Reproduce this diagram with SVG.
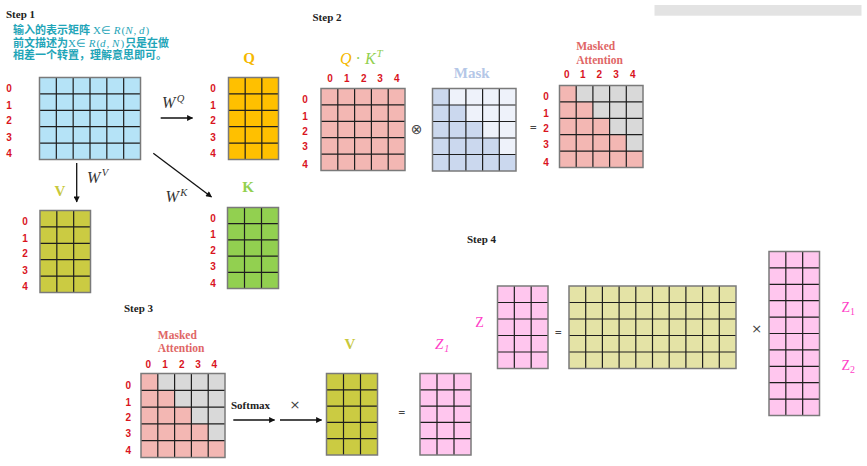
<svg xmlns="http://www.w3.org/2000/svg" width="867" height="466" viewBox="0 0 867 466">
<style>
.bg{fill:#ffffff}
.step{font-family:"Liberation Serif",serif;font-weight:bold;font-size:11px;fill:#222}
.idx{font-family:"Liberation Sans",Arial,sans-serif;font-weight:bold;font-size:10px;fill:#d9141e;text-anchor:middle}
.grid{fill:none;stroke:#1e1e1e;stroke-width:1.2}
.frame{fill:none;stroke:#7a7a7a;stroke-width:1.5}
.title{font-family:"Liberation Serif",serif;font-weight:bold;font-size:15px;text-anchor:middle}
.ma{font-family:"Liberation Serif",serif;font-weight:bold;font-size:11.5px;fill:#e06666;text-anchor:middle}
.w{font-family:"Liberation Serif",serif;font-style:italic;fill:#333}
.zl{font-family:"Liberation Serif",serif;fill:#ff3fc8}
.op{font-family:"DejaVu Sans",sans-serif;fill:#444;text-anchor:middle}
.cn{font-family:"Liberation Sans","Noto Sans CJK SC",sans-serif;font-weight:bold;font-size:11px;fill:#1fa5b8}
.m{font-family:"Liberation Serif",serif;font-weight:normal;font-size:11px}
.mi{font-family:"Liberation Serif",serif;font-weight:normal;font-style:italic;font-size:11px}
.arr{stroke:#111;stroke-width:1.3;fill:none;marker-end:url(#ah)}
</style>
<defs>
<marker id="ah" viewBox="0 0 10 10" refX="9" refY="5" markerWidth="7" markerHeight="6" markerUnits="userSpaceOnUse" orient="auto">
<path d="M0,0 L10,5 L0,10 z" fill="#111"/>
</marker>
</defs>
<rect class="bg" x="0" y="0" width="867" height="466"/>
<rect x="654.5" y="5" width="207" height="10.7" fill="#e3e3e3"/>

<!-- Step labels -->
<text class="step" x="6" y="18">Step 1</text>
<text class="step" x="312.5" y="21">Step 2</text>
<text class="step" x="124" y="312">Step 3</text>
<text class="step" x="467" y="243">Step 4</text>

<!-- Chinese note -->
<g id="note">
<text class="cn" x="13" y="34">输入的表示矩阵 <tspan class="m">X∈ </tspan><tspan class="mi">R</tspan><tspan class="m" dx="1">(</tspan><tspan class="mi">N</tspan><tspan class="m" dx="1">, </tspan><tspan class="mi">d</tspan><tspan class="m" dx="1">)</tspan></text>
<text class="cn" x="13" y="46.5">前文描述为<tspan class="m">X∈ </tspan><tspan class="mi">R</tspan><tspan class="m" dx="1">(</tspan><tspan class="mi">d</tspan><tspan class="m" dx="1">, </tspan><tspan class="mi">N</tspan><tspan class="m" dx="1">)</tspan><tspan dx="1">只是在做</tspan></text>
<text class="cn" x="13" y="59">相差一个转置，理解意思即可。</text>
</g>

<!-- X matrix -->
<g id="X">
<rect x="39.5" y="77.5" width="101" height="82" fill="#b5e3f7"/>
<path class="grid" d="M56.33,77.5V159.5M73.17,77.5V159.5M90,77.5V159.5M106.83,77.5V159.5M123.67,77.5V159.5M39.5,93.9H140.5M39.5,110.3H140.5M39.5,126.7H140.5M39.5,143.1H140.5"/>
<rect class="frame" x="39.5" y="77.5" width="101" height="82"/>
<text class="idx" x="9" y="92.3">0</text><text class="idx" x="9" y="108.6">1</text><text class="idx" x="9" y="124.1">2</text><text class="idx" x="9" y="140.6">3</text><text class="idx" x="9" y="157.3">4</text>
</g>

<!-- Q matrix -->
<g id="Q">
<text class="title" x="249" y="63" fill="#f5b800">Q</text>
<rect x="228.5" y="77.5" width="50" height="82" fill="#ffc000"/>
<path class="grid" d="M245.17,77.5V159.5M261.83,77.5V159.5M228.5,93.9H278.5M228.5,110.3H278.5M228.5,126.7H278.5M228.5,143.1H278.5"/>
<rect class="frame" x="228.5" y="77.5" width="50" height="82"/>
<text class="idx" x="213" y="92.3">0</text><text class="idx" x="213" y="108.6">1</text><text class="idx" x="213" y="124.1">2</text><text class="idx" x="213" y="140.6">3</text><text class="idx" x="213" y="157.3">4</text>
</g>

<!-- V matrix step 1 -->
<g id="V1">
<text class="title" x="60" y="195.5" fill="#c8c83c">V</text>
<rect x="40" y="210.5" width="50.5" height="82" fill="#cbcb42"/>
<path class="grid" d="M56.83,210.5V292.5M73.67,210.5V292.5M40,226.9H90.5M40,243.3H90.5M40,259.7H90.5M40,276.1H90.5"/>
<rect class="frame" x="40" y="210.5" width="50.5" height="82"/>
<text class="idx" x="25" y="225.3">0</text><text class="idx" x="25" y="241.9">1</text><text class="idx" x="25" y="257.3">2</text><text class="idx" x="25" y="273.6">3</text><text class="idx" x="25" y="290.3">4</text>
</g>

<!-- K matrix -->
<g id="K">
<text class="title" x="248" y="192.3" fill="#92d050">K</text>
<rect x="227.5" y="207.5" width="51" height="81" fill="#92d050"/>
<path class="grid" d="M244.5,207.5V288.5M261.5,207.5V288.5M227.5,223.7H278.5M227.5,239.9H278.5M227.5,256.1H278.5M227.5,272.3H278.5"/>
<rect class="frame" x="227.5" y="207.5" width="51" height="81"/>
<text class="idx" x="213" y="221.9">0</text><text class="idx" x="213" y="237.9">1</text><text class="idx" x="213" y="253.6">2</text><text class="idx" x="213" y="270.3">3</text><text class="idx" x="213" y="286.9">4</text>
</g>

<!-- QK^T matrix -->
<g id="QKT">
<text x="340" y="64" font-family="Liberation Serif,serif" font-style="italic" font-size="16"><tspan fill="#f5b800">Q</tspan><tspan fill="#92d050" font-style="normal" dx="4">·</tspan><tspan fill="#92d050" dx="4">K</tspan><tspan fill="#92d050" font-size="11" dx="1" dy="-7">T</tspan></text>
<rect x="321" y="88.5" width="84" height="82" fill="#f3b7b3"/>
<path class="grid" d="M337.8,88.5V170.5M354.6,88.5V170.5M371.4,88.5V170.5M388.2,88.5V170.5M321,104.9H405M321,121.3H405M321,137.7H405M321,154.1H405"/>
<rect class="frame" x="321" y="88.5" width="84" height="82"/>
<text class="idx" x="330" y="82">0</text><text class="idx" x="346.7" y="82">1</text><text class="idx" x="363.7" y="82">2</text><text class="idx" x="380" y="82">3</text><text class="idx" x="396.7" y="82">4</text>
<text class="idx" x="305" y="102.9">0</text><text class="idx" x="305" y="119.6">1</text><text class="idx" x="305" y="135.3">2</text><text class="idx" x="305" y="150.3">3</text><text class="idx" x="305" y="167.9">4</text>
</g>

<text class="op" x="416.5" y="133.5" font-size="14">⊗</text>

<!-- Mask matrix -->
<g id="Mask">
<text class="title" x="471.7" y="78.3" fill="#b4c7e7">Mask</text>
<rect x="432.5" y="88.5" width="83.5" height="82.5" fill="#eef2fa"/>
<polygon points="432.5,88.5 449.2,88.5 449.2,105 465.9,105 465.9,121.5 482.6,121.5 482.6,138 499.3,138 499.3,154.5 516,154.5 516,171 432.5,171" fill="#cbd8ee"/>
<path class="grid" d="M449.2,88.5V171M465.9,88.5V171M482.6,88.5V171M499.3,88.5V171M432.5,105H516M432.5,121.5H516M432.5,138H516M432.5,154.5H516"/>
<rect class="frame" x="432.5" y="88.5" width="83.5" height="82.5"/>
</g>

<text class="op" x="533.3" y="130" font-size="9" font-weight="bold" fill="#666">=</text>

<!-- Masked Attention step 2 -->
<g id="MA2">
<text class="ma" x="595.7" y="50">Masked</text>
<text class="ma" x="599.5" y="64">Attention</text>
<rect x="559.5" y="85.5" width="83.5" height="82" fill="#d9d9d9"/>
<polygon points="559.5,85.5 576.2,85.5 576.2,101.9 592.9,101.9 592.9,118.3 609.6,118.3 609.6,134.7 626.3,134.7 626.3,151.1 643,151.1 643,167.5 559.5,167.5" fill="#f3b7b3"/>
<path class="grid" d="M576.2,85.5V167.5M592.9,85.5V167.5M609.6,85.5V167.5M626.3,85.5V167.5M559.5,101.9H643M559.5,118.3H643M559.5,134.7H643M559.5,151.1H643"/>
<rect class="frame" x="559.5" y="85.5" width="83.5" height="82"/>
<text class="idx" x="566.7" y="77.5">0</text><text class="idx" x="582.7" y="77.5">1</text><text class="idx" x="599.3" y="77.5">2</text><text class="idx" x="616" y="77.5">3</text><text class="idx" x="632.7" y="77.5">4</text>
<text class="idx" x="546" y="100.3">0</text><text class="idx" x="546" y="116.9">1</text><text class="idx" x="546" y="131.9">2</text><text class="idx" x="546" y="147.9">3</text><text class="idx" x="546" y="165.9">4</text>
</g>

<!-- Masked Attention step 3 -->
<g id="MA3">
<text class="ma" x="177.3" y="339">Masked</text>
<text class="ma" x="181" y="352.3">Attention</text>
<rect x="141" y="373.5" width="84" height="84" fill="#d9d9d9"/>
<polygon points="141,373.5 157.8,373.5 157.8,390.3 174.6,390.3 174.6,407.1 191.4,407.1 191.4,423.9 208.2,423.9 208.2,440.7 225,440.7 225,457.5 141,457.5" fill="#f3b7b3"/>
<path class="grid" d="M157.8,373.5V457.5M174.6,373.5V457.5M191.4,373.5V457.5M208.2,373.5V457.5M141,390.3H225M141,407.1H225M141,423.9H225M141,440.7H225"/>
<rect class="frame" x="141" y="373.5" width="84" height="84"/>
<text class="idx" x="148.3" y="367.5">0</text><text class="idx" x="165" y="367.5">1</text><text class="idx" x="181.7" y="367.5">2</text><text class="idx" x="198" y="367.5">3</text><text class="idx" x="214.3" y="367.5">4</text>
<text class="idx" x="128.3" y="388.6">0</text><text class="idx" x="128.3" y="405.9">1</text><text class="idx" x="128.3" y="420.9">2</text><text class="idx" x="128.3" y="436.9">3</text><text class="idx" x="128.3" y="454.3">4</text>
</g>

<text x="231" y="408.5" font-family="Liberation Serif,serif" font-weight="bold" font-size="11" fill="#222">Softmax</text>
<text class="op" x="295" y="409" font-size="13">×</text>

<!-- V matrix step 3 -->
<g id="V3">
<text class="title" x="350" y="349.3" fill="#c8c83c">V</text>
<rect x="326.5" y="373.5" width="51" height="81.5" fill="#cbcb42"/>
<path class="grid" d="M343.5,373.5V455M360.5,373.5V455M326.5,389.8H377.5M326.5,406.1H377.5M326.5,422.4H377.5M326.5,438.7H377.5"/>
<rect class="frame" x="326.5" y="373.5" width="51" height="81.5"/>
</g>

<text class="op" x="401.7" y="415" font-size="9" font-weight="bold" fill="#666">=</text>

<!-- Z1 step 3 -->
<g id="Z1s3">
<text class="zl" x="435" y="349.3" font-size="15" font-style="italic">Z<tspan font-size="10" dx="1" dy="3">1</tspan></text>
<rect x="420" y="373.5" width="51" height="81.5" fill="#ffc6ee"/>
<path class="grid" d="M437,373.5V455M454,373.5V455M420,389.8H471M420,406.1H471M420,422.4H471M420,438.7H471"/>
<rect class="frame" x="420" y="373.5" width="51" height="81.5"/>
</g>

<!-- Z step 4 -->
<g id="Z">
<text class="zl" x="479.5" y="326.7" font-size="14" text-anchor="middle">Z</text>
<rect x="497.5" y="286" width="50.5" height="82.5" fill="#ffc6ee"/>
<path class="grid" d="M514.33,286V368.5M531.17,286V368.5M497.5,302.5H548M497.5,319H548M497.5,335.5H548M497.5,352H548"/>
<rect class="frame" x="497.5" y="286" width="50.5" height="82.5"/>
</g>

<text class="op" x="558.3" y="335" font-size="9" font-weight="bold" fill="#666">=</text>

<!-- big weight matrix -->
<g id="WO">
<rect x="569" y="286" width="167" height="82.5" fill="#e4e3a6"/>
<path class="grid" d="M585.7,286V368.5M602.4,286V368.5M619.1,286V368.5M635.8,286V368.5M652.5,286V368.5M669.2,286V368.5M685.9,286V368.5M702.6,286V368.5M719.3,286V368.5M569,302.5H736M569,319H736M569,335.5H736M569,352H736"/>
<rect class="frame" x="569" y="286" width="167" height="82.5"/>
</g>

<text class="op" x="756.7" y="332.5" font-size="13">×</text>

<!-- tall Z concat matrix -->
<g id="Zcat">
<rect x="769" y="251.5" width="50.5" height="164" fill="#ffc6ee"/>
<path class="grid" d="M785.83,251.5V415.5M802.67,251.5V415.5M769,267.9H819.5M769,284.3H819.5M769,300.7H819.5M769,317.1H819.5M769,333.5H819.5M769,349.9H819.5M769,366.3H819.5M769,382.7H819.5M769,399.1H819.5"/>
<rect class="frame" x="769" y="251.5" width="50.5" height="164"/>
<text class="zl" x="841.5" y="311.5" font-size="14">Z<tspan font-size="10" dy="3">1</tspan></text>
<text class="zl" x="841.5" y="370" font-size="14">Z<tspan font-size="10" dy="3">2</tspan></text>
</g>

<!-- connectors -->
<g id="connectors">
<line class="arr" x1="160.7" y1="118" x2="192.5" y2="118"/>
<line class="arr" x1="76.7" y1="163" x2="76.7" y2="202"/>
<line class="arr" x1="153.3" y1="153.3" x2="211.5" y2="197"/>
<line class="arr" x1="233.3" y1="420" x2="274.5" y2="420"/>
<line class="arr" x1="280" y1="420" x2="321.5" y2="420"/>
<text class="w" x="162" y="107.5" font-size="16">W<tspan font-size="10.5" dx="1.5" dy="-6">Q</tspan></text>
<text class="w" x="87" y="183.3" font-size="16">W<tspan font-size="10.5" dx="1.5" dy="-7">V</tspan></text>
<text class="w" x="165.5" y="202.3" font-size="16">W<tspan font-size="10.5" dx="1.5" dy="-6">K</tspan></text>
</g>
</svg>
